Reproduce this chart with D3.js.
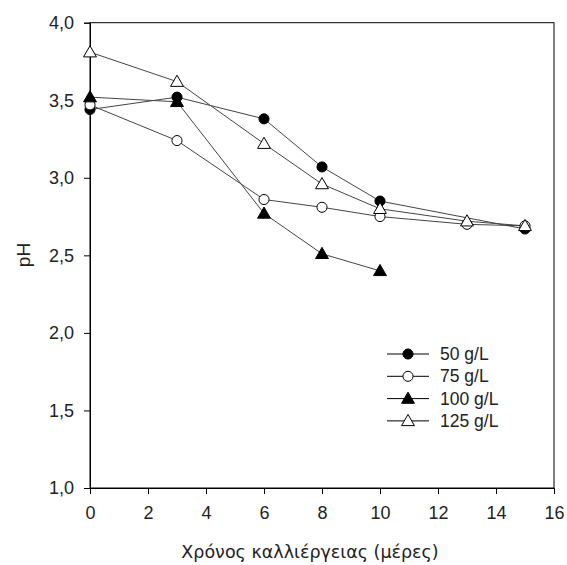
<!DOCTYPE html>
<html><head><meta charset="utf-8">
<script src="https://cdn.jsdelivr.net/npm/d3@7"></script>
<style>body{margin:0;background:#fff}svg{display:block}text{font-family:"Liberation Sans",Arial,sans-serif;fill:#222}</style>
</head><body><svg id="c" width="567" height="565"></svg>
<script>
const days50 = [0, 3, 6, 8, 10, 15];
const ph50 = [3.44, 3.52, 3.38, 3.07, 2.85, 2.67];
const days75 = [0, 3, 6, 8, 10, 13, 15];
const ph75 = [3.47, 3.24, 2.86, 2.81, 2.75, 2.70, 2.69];
const days100 = [0, 3, 6, 8, 10];
const ph100 = [3.52, 3.49, 2.77, 2.51, 2.40];
const days125 = [0, 3, 6, 8, 10, 13, 15];
const ph125 = [3.81, 3.62, 3.22, 2.96, 2.80, 2.72, 2.69];
const seriesNames = ["50 g/L", "75 g/L", "100 g/L", "125 g/L"];
const xTicks = [0, 2, 4, 6, 8, 10, 12, 14, 16];
const yTicks = [1.0, 1.5, 2.0, 2.5, 3.0, 3.5, 4.0];
const xTitle = "Χρόνος καλλιέργειας (μέρες)";
const yTitle = "pH";

const series = [
  {name: seriesNames[0], x: days50, y: ph50, shape: "circle", fill: "#000"},
  {name: seriesNames[1], x: days75, y: ph75, shape: "circle", fill: "#fff"},
  {name: seriesNames[2], x: days100, y: ph100, shape: "triangle", fill: "#000"},
  {name: seriesNames[3], x: days125, y: ph125, shape: "triangle", fill: "#fff"}
];

const svg = d3.select("#c");
const L = 90, R = 554, T = 22.7, B = 488;
const x = d3.scaleLinear().domain([0, 16]).range([L, R]);
const y = d3.scaleLinear().domain([1, 4]).range([B, T]);

svg.append("rect").attr("x", L).attr("y", T).attr("width", R - L).attr("height", B - T)
  .attr("fill", "none").attr("stroke", "#000").attr("stroke-width", 1);

const fmt = d => d3.format(".1f")(d).replace(".", ",");
const xa = svg.append("g").attr("transform", `translate(0,${B})`)
  .call(d3.axisBottom(x).tickValues(xTicks).tickSize(6).tickPadding(12).tickFormat(d3.format("d")));
const ya = svg.append("g").attr("transform", `translate(${L},0)`)
  .call(d3.axisLeft(y).tickValues(yTicks).tickSize(6).tickPadding(10).tickFormat(fmt));
[xa, ya].forEach(a => {
  a.select(".domain").attr("stroke", "#000");
  a.selectAll(".tick line").attr("stroke", "#000");
  a.selectAll("text").style("font-size", "18px").style("font-family", "'Liberation Sans',Arial,sans-serif").attr("fill", "#222");
});

svg.append("text").attr("x", 310).attr("y", 558).attr("text-anchor", "middle")
  .style("font-family", "'DejaVu Sans',sans-serif").style("font-size", "17.5px").attr("fill", "#111").text(xTitle);
svg.append("text").attr("transform", `translate(30,${255}) rotate(-90)`)
  .attr("text-anchor", "middle").style("font-size", "19px").attr("fill", "#111").text(yTitle);

const sym = s => s.shape === "circle" ? d3.symbol(d3.symbolCircle, 80) : d3.symbol(d3.symbolTriangle, 72);
const line = d3.line().x(d => x(d[0])).y(d => y(d[1]));

series.forEach(s => {
  const pts = s.x.map((v, i) => [v, s.y[i]]);
  svg.append("path").attr("d", line(pts)).attr("fill", "none").attr("stroke", "#444").attr("stroke-width", 1);
});
series.forEach(s => {
  const pts = s.x.map((v, i) => [v, s.y[i]]);
  svg.append("g").selectAll("path").data(pts).join("path")
    .attr("d", sym(s)()).attr("transform", d => `translate(${x(d[0])},${y(d[1]) + (s.shape === "triangle" ? 1 : 0)})`)
    .attr("fill", s.fill).attr("stroke", "#000").attr("stroke-width", 1);
});

const lg = svg.append("g");
series.forEach((s, i) => {
  const yy = 354 + i * 22.3;
  lg.append("line").attr("x1", 387).attr("x2", 429).attr("y1", yy).attr("y2", yy).attr("stroke", "#000");
  lg.append("path").attr("d", sym(s)()).attr("transform", `translate(408,${yy + (s.shape === "triangle" ? 1 : 0)})`)
    .attr("fill", s.fill).attr("stroke", "#000");
  lg.append("text").attr("x", 440).attr("y", yy + 6).style("font-size", "17.5px").text(s.name);
});
</script></body></html>
